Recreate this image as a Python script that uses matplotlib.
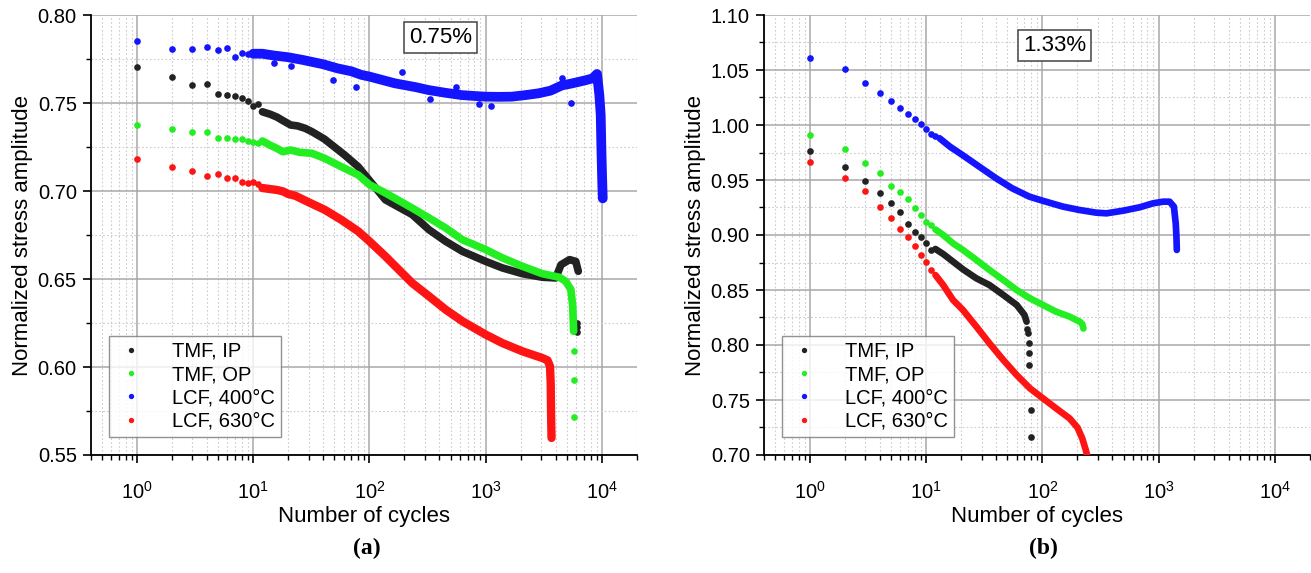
import matplotlib
matplotlib.use("Agg")
import matplotlib.pyplot as plt
from matplotlib.ticker import LogLocator, MultipleLocator, FormatStrFormatter, NullFormatter

plt.rcParams["font.family"] = ["Liberation Sans", "DejaVu Sans"]
plt.rcParams["mathtext.default"] = "regular"

# -------------------------------------------------
# DATA  (a) 0.75 %
# -------------------------------------------------
# single early / isolated cycles
a_ip_n = [1, 2, 3, 4, 5, 6, 7, 8, 9, 10, 11, 6050, 6100, 6150]
a_ip_v = [0.7706, 0.7646, 0.7604, 0.7606, 0.7551, 0.7545, 0.7538, 0.7526, 0.7511, 0.7485, 0.7492,
          0.625, 0.6225, 0.620]
# dense part of the curve
a_ip_band_n = [12, 14, 16, 18, 21, 24, 28, 32, 41, 61, 80, 100, 137, 233, 325, 452, 630, 1000,
               1390, 2070, 3070, 4000, 4440, 5260, 5950, 6250]
a_ip_band_v = [0.745, 0.7436, 0.742, 0.740, 0.7375, 0.737, 0.7356, 0.7337, 0.7295, 0.7205, 0.7138,
               0.706, 0.695, 0.6866, 0.678, 0.6714, 0.6657, 0.660, 0.6563, 0.653, 0.651, 0.6506,
               0.6581, 0.661, 0.660, 0.6544]

a_op_n = [1, 2, 3, 4, 5, 6, 7, 8, 9, 10, 11, 5750, 5780, 5800]
a_op_v = [0.7375, 0.7354, 0.7335, 0.7335, 0.7303, 0.730, 0.7295, 0.7295, 0.7284, 0.728, 0.727,
          0.6093, 0.5927, 0.5718]
a_op_band_n = [12, 14, 16, 18, 21, 25, 32, 41, 61, 80, 100, 137, 233, 325, 452, 630, 1000, 1390,
               2070, 3070, 4290, 4870, 5400, 5600, 5700]
a_op_band_v = [0.7284, 0.726, 0.7242, 0.7223, 0.7233, 0.722, 0.7214, 0.7186, 0.7129, 0.7091,
               0.7036, 0.6989, 0.6903, 0.6847, 0.679, 0.6723, 0.6667, 0.662, 0.6572, 0.653, 0.651,
               0.6487, 0.644, 0.6345, 0.6203]

a_400_n = [1, 2, 3, 4, 5, 6, 7, 8, 9, 15, 21, 49, 76, 190, 333, 560, 870, 1100, 4500, 5400]
a_400_v = [0.7854, 0.7805, 0.7809, 0.7818, 0.7799, 0.7814, 0.7761, 0.7784, 0.7777, 0.7725, 0.771,
           0.763, 0.759, 0.7674, 0.7523, 0.7593, 0.7492, 0.7485, 0.7644, 0.750]
a_400_band_n = [10, 12, 15, 20, 27, 40, 53, 70, 85, 100, 165, 250, 320, 450, 620, 800, 1000, 1300,
                1675, 2200, 2840, 3600, 4520, 5400, 6300, 7300, 8300, 9060, 9490, 9750, 9880,
                10010, 10150]
a_400_band_v = [0.778, 0.778, 0.777, 0.776, 0.7744, 0.772, 0.7697, 0.768, 0.766, 0.765, 0.7612,
                0.759, 0.7574, 0.7558, 0.7545, 0.754, 0.7536, 0.7535, 0.7536, 0.7545, 0.7555,
                0.757, 0.760, 0.761, 0.762, 0.763, 0.764, 0.7665, 0.7545, 0.743, 0.724, 0.709,
                0.6958]

a_630_n = [1, 2, 3, 4, 5, 6, 7, 8, 9, 10, 11]
a_630_v = [0.7182, 0.7136, 0.7116, 0.7083, 0.7098, 0.7074, 0.7072, 0.7051, 0.7045, 0.7053, 0.704]
a_630_band_n = [12, 14, 16, 18, 20, 23, 30, 41, 57, 80, 100, 137, 233, 325, 452, 630, 1000, 1390,
                2070, 3070, 3400, 3570, 3620, 3650, 3680]
a_630_band_v = [0.7017, 0.7011, 0.7006, 0.6998, 0.6983, 0.6973, 0.6936, 0.6894, 0.6837, 0.6771,
                0.6714, 0.6629, 0.6477, 0.6402, 0.6326, 0.626, 0.6184, 0.6136, 0.6089, 0.6051,
                0.6038, 0.6004, 0.5909, 0.572, 0.5597]

# -------------------------------------------------
# DATA  (b) 1.33 %
# -------------------------------------------------
b_ip_n = [1, 2, 3, 4, 5, 6, 7, 8, 9, 10, 11, 74, 75, 76, 76.5, 77, 79, 80]
b_ip_v = [0.9764, 0.9618, 0.9491, 0.9385, 0.9291, 0.9212, 0.91, 0.9024, 0.8985, 0.893, 0.8864,
          0.8142, 0.8106, 0.8015, 0.7924, 0.7818, 0.7409, 0.7167]
b_ip_band_n = [12, 14, 17, 20.7, 27, 35, 46, 60, 70, 73]
b_ip_band_v = [0.8873, 0.8827, 0.8758, 0.8688, 0.8606, 0.8545, 0.8455, 0.8364, 0.8273, 0.8212]

b_op_n = [1, 2, 3, 4, 5, 6, 7, 8, 9, 10, 11]
b_op_v = [0.9909, 0.9782, 0.9655, 0.9567, 0.9449, 0.9394, 0.9327, 0.9242, 0.9182, 0.9121, 0.9091]
b_op_band_n = [12, 14, 17, 20.7, 27, 35, 46, 60, 78, 101, 131, 171, 209, 220, 225]
b_op_band_v = [0.905, 0.90, 0.8924, 0.8864, 0.8773, 0.8682, 0.8591, 0.85, 0.8424, 0.8364, 0.8303,
               0.8258, 0.8212, 0.819, 0.815]

b_400_n = [1, 2, 3, 4, 5, 6, 7, 8, 9, 10, 11, 12]
b_400_v = [1.0606, 1.0509, 1.0382, 1.0288, 1.0218, 1.0158, 1.0103, 1.0052, 1.0006, 0.9964, 0.9915,
           0.9903]
b_400_band_n = [13, 16, 20.5, 28.6, 40, 55, 77, 100, 150, 209, 290, 355, 494, 687, 893, 1090, 1240,
                1350, 1400, 1420, 1430]
b_400_band_v = [0.988, 0.9803, 0.9727, 0.9621, 0.9515, 0.9424, 0.9349, 0.9312, 0.9258, 0.9227,
                0.9203, 0.9197, 0.9221, 0.9252, 0.9288, 0.9303, 0.9303, 0.9258, 0.9106, 0.8985,
                0.8864]

b_630_n = [1, 2, 3, 4, 5, 6, 7, 8, 9, 10, 11]
b_630_v = [0.9667, 0.9518, 0.94, 0.9258, 0.9155, 0.9055, 0.8982, 0.89, 0.8818, 0.8752, 0.8682]
b_630_band_n = [12, 14, 17, 20.7, 27, 35, 46, 60, 78, 101, 131, 171, 200, 220, 235, 242]
b_630_band_v = [0.8636, 0.8545, 0.8409, 0.8318, 0.8167, 0.8015, 0.7864, 0.7727, 0.7606, 0.7515,
                0.7424, 0.7333, 0.725, 0.715, 0.705, 0.700]

labels = ["TMF, IP", "TMF, OP", "LCF, 400°C", "LCF, 630°C"]
colors = ["#222222", "#22ee22", "#1414ff", "#ff1414"]


# -------------------------------------------------
# HELPERS
# -------------------------------------------------

def draw_series(ax, pts_n, pts_v, band_n, band_v, color, label, lw):
    ax.plot(band_n, band_v, "-", color=color, lw=lw, solid_capstyle="round",
            solid_joinstyle="round", zorder=3)
    ax.plot(pts_n, pts_v, "o", color=color, ms=4.8, mew=0, zorder=3, label=label)


def style_axes(ax, ymin, ymax):
    ax.set_xscale("log")
    ax.set_xlim(0.4, 2e4)
    ax.set_ylim(ymin, ymax)
    ax.yaxis.set_major_locator(MultipleLocator(0.05))
    ax.yaxis.set_minor_locator(MultipleLocator(0.025))
    ax.yaxis.set_major_formatter(FormatStrFormatter("%.2f"))
    ax.xaxis.set_major_locator(LogLocator(base=10, numticks=10))
    ax.xaxis.set_minor_locator(LogLocator(base=10, subs=range(2, 10), numticks=50))
    ax.xaxis.set_minor_formatter(NullFormatter())

    ax.grid(which="major", color="#a8a8a8", lw=1.1, ls="-")
    ax.grid(which="minor", color="#cccccc", lw=0.8, ls=(0, (1.5, 2)))
    ax.set_axisbelow(True)

    for side in ["top", "right"]:
        ax.spines[side].set_visible(False)
    for side in ["left", "bottom"]:
        ax.spines[side].set_linewidth(1.3)

    ax.tick_params(which="major", direction="out", length=6, width=1.2, labelsize=14.5, pad=4)
    ax.tick_params(axis="x", which="major", pad=13)
    ax.tick_params(which="minor", direction="out", length=3.5, width=1.0)

    ax.set_xlabel("Number of cycles", fontsize=16)
    ax.set_ylabel("Normalized stress amplitude", fontsize=16)
    ax.xaxis.set_label_coords(0.5, -0.115)
    ax.yaxis.set_label_coords(-0.105, 0.5)

    leg = ax.legend(loc="lower left", bbox_to_anchor=(0.034, 0.041), borderaxespad=0,
                    fontsize=14.5, frameon=True, fancybox=False, markerscale=0.8,
                    handlelength=1.6, handletextpad=1.2, labelspacing=0.22,
                    borderpad=0.3)
    leg.get_frame().set_edgecolor("#777777")
    leg.get_frame().set_linewidth(1.0)
    leg.set_zorder(5)


# -------------------------------------------------
# FIGURE
# -------------------------------------------------

fig = plt.figure(figsize=(13.11, 5.73), dpi=100)
ax1 = fig.add_axes([90.7 / 1311, 118 / 573, 546.3 / 1311, 440 / 573])
ax2 = fig.add_axes([763.7 / 1311, 118 / 573, 546.3 / 1311, 440 / 573])

# (a)
draw_series(ax1, a_ip_n, a_ip_v, a_ip_band_n, a_ip_band_v, colors[0], labels[0], 5.5)
draw_series(ax1, a_op_n, a_op_v, a_op_band_n, a_op_band_v, colors[1], labels[1], 5.5)
draw_series(ax1, a_400_n, a_400_v, a_400_band_n, a_400_band_v, colors[2], labels[2], 7)
draw_series(ax1, a_630_n, a_630_v, a_630_band_n, a_630_band_v, colors[3], labels[3], 6)
style_axes(ax1, 0.55, 0.80)
ax1.text(0.641, 0.948, "0.75%", transform=ax1.transAxes, ha="center", va="center",
         fontsize=16, zorder=6,
         bbox=dict(boxstyle="square,pad=0.22", fc="white", ec="#444444", lw=1.1))

# (b)
draw_series(ax2, b_ip_n, b_ip_v, b_ip_band_n, b_ip_band_v, colors[0], labels[0], 4.8)
draw_series(ax2, b_op_n, b_op_v, b_op_band_n, b_op_band_v, colors[1], labels[1], 4.8)
draw_series(ax2, b_400_n, b_400_v, b_400_band_n, b_400_band_v, colors[2], labels[2], 4.8)
draw_series(ax2, b_630_n, b_630_v, b_630_band_n, b_630_band_v, colors[3], labels[3], 4.8)
style_axes(ax2, 0.70, 1.10)
ax2.text(0.533, 0.93, "1.33%", transform=ax2.transAxes, ha="center", va="center",
         fontsize=16, zorder=6,
         bbox=dict(boxstyle="square,pad=0.22", fc="white", ec="#444444", lw=1.1))

fig.text(367 / 1311, 1 - 548 / 573, "(a)", ha="center", va="center", fontsize=17,
         fontweight="bold", family="Liberation Serif")
fig.text(1043 / 1311, 1 - 548 / 573, "(b)", ha="center", va="center", fontsize=17,
         fontweight="bold", family="Liberation Serif")

fig.savefig("out.png", dpi=100)
plt.close(fig)
